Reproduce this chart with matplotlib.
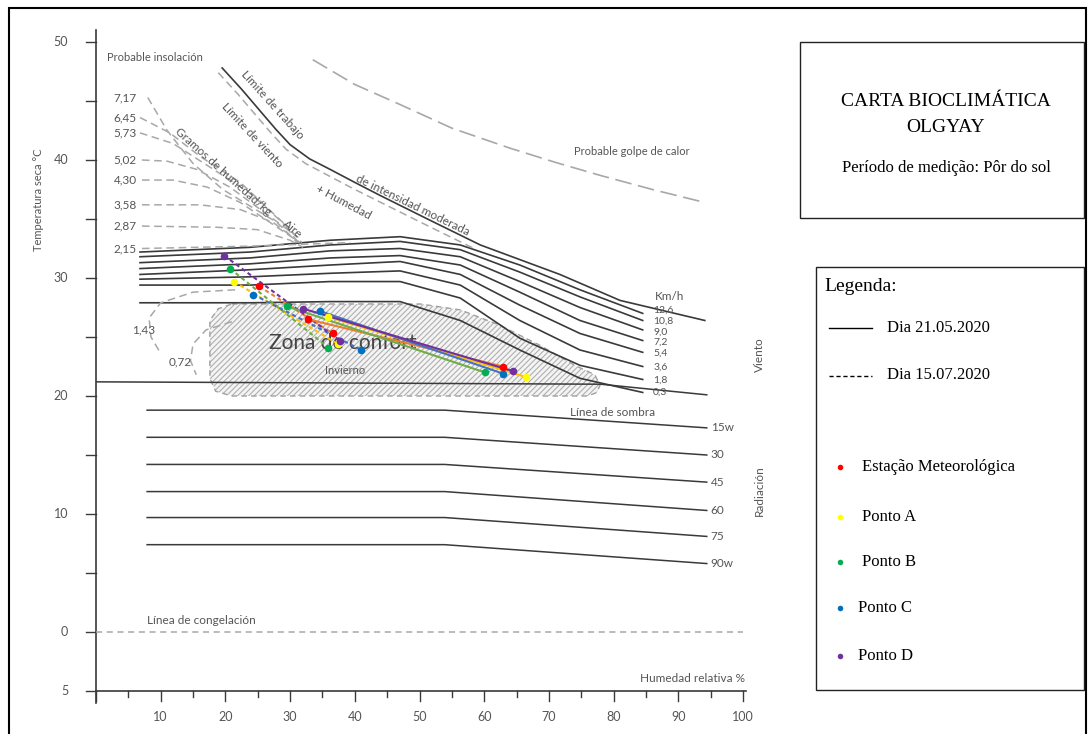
import numpy as np
import matplotlib.pyplot as plt
from matplotlib.patches import Polygon, Rectangle
from matplotlib.lines import Line2D

plt.rcParams['font.family'] = ['Lato', 'DejaVu Sans']
plt.rcParams['hatch.linewidth'] = 0.8

# ---- data (x = humedad relativa %, y = temperatura seca C) ----
wind_x = [6.8, 23.8, 36.2, 47.0, 56.3, 65.5, 74.8, 84.5]
wind_labels = ['12,6', '10,8', '9,0', '7,2', '5,4', '3,6', '1,8', '0,3']
wind_y = [
    [32.2, 32.6, 33.2, 33.5, 32.8, 31.1, 29.0, 27.0],
    [31.8, 32.2, 32.8, 33.1, 32.4, 30.5, 28.4, 26.4],
    [31.3, 31.7, 32.3, 32.5, 31.8, 29.7, 27.5, 25.6],
    [30.8, 31.2, 31.7, 31.9, 31.1, 28.8, 26.4, 24.7],
    [30.3, 30.7, 31.1, 31.4, 30.3, 27.7, 25.3, 23.7],
    [29.9, 30.1, 30.4, 30.6, 29.4, 26.4, 23.9, 22.5],
    [29.4, 29.4, 29.7, 29.7, 28.3, 24.9, 22.6, 21.4],
    [27.9, 27.9, 28.0, 28.0, 26.4, 23.9, 21.5, 20.3],
]
wind_label_y = [27.25, 26.35, 25.4, 24.6, 23.6, 22.4, 21.3, 20.3]

rad_labels = ['15w', '30', '45', '60', '75', '90w']
rad_x = [7.9, 53.9, 94.4]
rad_y = [[18.8, 18.8, 17.3], [16.5, 16.5, 15.0], [14.2, 14.2, 12.7],
         [11.9, 11.9, 10.3], [9.7, 9.7, 8.1], [7.4, 7.4, 5.8]]

hum_labels = ['7,17', '6,45', '5,73', '5,02', '4,30', '3,58', '2,87', '2,15']
hum_label_y = [45.3, 43.6, 42.3, 40.0, 38.3, 36.2, 34.4, 32.5]
hum_curves = [
    ([8.0, 11.0, 15.0, 19.6, 28.0, 31.1], [45.3, 42.5, 39.7, 37.5, 34.7, 33.0]),
    ([6.8, 11.4, 16.1, 22.3, 28.9, 31.5], [43.6, 42.3, 40.3, 38.1, 34.7, 32.8]),
    ([6.8, 11.9, 17.6, 23.8, 30.0, 31.8], [42.3, 41.4, 39.4, 37.2, 34.1, 33.0]),
    ([7.1, 11.0, 15.6, 20.7, 26.9, 31.1], [40.0, 39.9, 39.2, 37.7, 35.2, 33.5]),
    ([7.1, 11.9, 17.2, 22.3, 28.0, 31.5], [38.3, 38.3, 37.7, 36.4, 34.3, 33.0]),
    ([7.1, 16.1, 22.3, 27.4, 31.5], [36.2, 36.2, 35.8, 34.7, 33.0]),
    ([7.1, 18.7, 24.9, 30.0, 32.0], [34.4, 34.3, 34.1, 33.2, 32.6]),
    ([7.1, 23.8, 39.3], [32.5, 32.7, 33.0]),
]

trabajo_x = [19.5, 22.5, 25.3, 27.8, 30.0, 33.0, 36.2, 40.0, 43.9, 51.6, 59.4, 71.7, 81.0, 94.1]
trabajo_y = [47.8, 46.0, 44.2, 42.6, 41.3, 40.1, 39.2, 38.1, 37.0, 34.9, 32.8, 30.3, 28.1, 26.4]
viento_x = [18.9, 21.9, 24.7, 27.2, 29.4, 32.4, 35.5, 39.3, 43.3, 51.0, 58.8]
viento_y = [47.4, 45.6, 43.8, 42.2, 40.9, 39.7, 38.8, 37.7, 36.6, 34.5, 32.4]
calor_x = [33.5, 40.0, 47.0, 55.0, 64.0, 71.0, 77.9, 86.0, 94.1]
calor_y = [48.5, 46.4, 44.7, 42.7, 41.0, 39.8, 38.7, 37.5, 36.4]

sombra_x = [0, 78.0, 94.4]
sombra_y = [21.2, 21.0, 20.1]

arc143_x = [21.5, 15.0, 10.0, 8.2, 8.5, 10.0]
arc143_y = [29.0, 28.8, 27.9, 26.6, 25.0, 23.6]
arc072_x = [21.0, 17.0, 15.0, 14.6, 15.5]
arc072_y = [26.3, 25.6, 24.4, 23.0, 21.8]

zona_x = [21.0, 50.1, 56.3, 62.4, 68.6, 74.0, 77.1, 77.9, 77.4, 76.0, 21.0, 18.5, 17.6, 17.6, 18.9]
zona_y = [27.8, 27.8, 27.3, 26.0, 24.3, 22.6, 21.8, 20.9, 20.3, 20.0, 20.0, 20.4, 21.5, 26.4, 27.4]

# series: [x inicio, x fim], [y inicio, y fim]
series = ['Estação Meteorológica', 'Ponto A', 'Ponto B', 'Ponto C', 'Ponto D']
point_colors = ['#ff0000', '#ffff00', '#00b050', '#0070c0', '#7030a0']
line_colors = ['#ed7d31', '#ffc000', '#70ad47', '#4472c4', '#7030a0']
dia1_x = [[32.8, 62.9], [35.9, 66.5], [29.5, 60.1], [34.6, 62.9], [32.0, 64.5]]
dia1_y = [[26.5, 22.5], [26.7, 21.6], [27.6, 22.0], [27.2, 21.9], [27.4, 22.1]]
dia2_x = [[25.2, 36.6], [21.3, 37.4], [20.7, 35.9], [24.3, 41.0], [19.8, 37.7]]
dia2_y = [[29.3, 25.3], [29.7, 24.4], [30.8, 24.1], [28.6, 23.9], [31.9, 24.7]]

# ---- figure ----
fig = plt.figure(figsize=(10.88, 7.34), dpi=100)
ax = fig.add_axes([96 / 1088, 43 / 734, 647 / 1088, 649 / 734])
ax.set_xlim(0, 100)
ax.set_ylim(-5, 50)
ax.axis('off')

dark = '#3a3a3a'
grey = '#a8a8a8'
txt = '#555555'

# axes lines and ticks
ax.plot([0, 0], [-6.0, 51.0], color=dark, lw=1.2, clip_on=False)
ax.plot([0, 100.5], [-5, -5], color=dark, lw=1.2, clip_on=False)
for t in range(-5, 51, 5):
    ax.plot([-1.6, 0], [t, t], color=dark, lw=1, clip_on=False)
for t in [-5, 0, 10, 20, 30, 40, 50]:
    ax.text(-4.3, t, '5' if t == -5 else str(t), ha='right', va='center',
            fontsize=9, color=txt)
for t in range(0, 101, 5):
    ln = 0.85 if t % 10 == 0 else 0.55
    ax.plot([t, t], [-5, -5 - ln], color=dark, lw=1, clip_on=False)
for t in range(10, 101, 10):
    ax.text(t, -7.2, str(t), ha='center', va='center', fontsize=9, color=txt)

# comfort zone
ax.add_patch(Polygon(np.column_stack([zona_x, zona_y]), closed=True,
                     facecolor='#f4f4f4', edgecolor='#b0b0b0', hatch='//////', lw=0))
ax.add_patch(Polygon(np.column_stack([zona_x, zona_y]), closed=True, fill=False,
                     edgecolor='#a0a0a0', lw=1, ls=(0, (4, 3))))

# wind lines
for ys, lab, ly in zip(wind_y, wind_labels, wind_label_y):
    ax.plot(wind_x, ys, color=dark, lw=1.2)
    ax.text(wind_x[-1] + 1.6, ly, lab, fontsize=7.5, color=txt, va='center')
ax.text(86.4, 28.4, 'Km/h', fontsize=8.5, color=txt, va='center')

# radiation lines
for ys, lab in zip(rad_y, rad_labels):
    ax.plot(rad_x, ys, color=dark, lw=1.1)
    ax.text(rad_x[-1] + 0.6, ys[-1], lab, fontsize=8.5, color=txt, va='center')

# humidity (insolation) curves
for (cx, cy), lab, ly in zip(hum_curves, hum_labels, hum_label_y):
    ax.plot(cx, cy, color=grey, lw=1.1, ls=(0, (5, 3)))
    ax.text(6.3, ly, lab, ha='right', va='center', fontsize=8.5, color=txt)
ax.plot(arc143_x, arc143_y, color=grey, lw=1.1, ls=(0, (5, 3)))
ax.plot(arc072_x, arc072_y, color=grey, lw=1.1, ls=(0, (5, 3)))
ax.text(7.3, 25.6, '1,43', ha='center', va='center', fontsize=8.5, color=txt)
ax.text(13.0, 22.9, '0,72', ha='center', va='center', fontsize=8.5, color=txt)

# limits
ax.plot(trabajo_x, trabajo_y, color=dark, lw=1.2)
ax.plot(viento_x, viento_y, color=grey, lw=1.1, ls=(0, (5, 3)))
ax.plot(calor_x, calor_y, color=grey, lw=1.2, ls=(0, (10, 4)))
ax.plot(sombra_x, sombra_y, color=dark, lw=1.1)
ax.plot([0, 100], [0, 0], color=grey, lw=1.1, ls=(0, (4, 3)))

# texts
ax.text(1.7, 48.7, 'Probable insolación', fontsize=8, color=txt, va='center')
ax.text(27.2, 44.7, 'Límite de trabajo', fontsize=8.5, color=txt, rotation=-48,
        ha='center', va='center')
ax.text(24.1, 42.1, 'Límite de viento', fontsize=8.5, color=txt, rotation=-47,
        ha='center', va='center')
ax.text(19.6, 39.0, 'Gramos de humedad/kg', fontsize=8.5, color=txt, rotation=-42,
        ha='center', va='center')
ax.text(30.4, 34.1, 'Aire', fontsize=8.5, color=txt, rotation=-40, ha='center', va='center')
ax.text(38.2, 36.4, '+ Humedad', fontsize=8.5, color=txt, rotation=-28,
        ha='center', va='center')
ax.text(49.0, 36.2, 'de intensidad moderada', fontsize=8.5, color=txt, rotation=-26,
        ha='center', va='center')
ax.text(82.8, 40.7, 'Probable golpe de calor', fontsize=8, color=txt, ha='center', va='center')
ax.text(38.2, 24.5, 'Zona de confort', fontsize=15, color='#444444', ha='center', va='center')
ax.text(38.5, 22.2, 'Invierno', fontsize=8, color=txt, ha='center', va='center')
ax.text(79.8, 18.6, 'Línea de sombra', fontsize=8.5, color=txt, ha='center', va='center')
ax.text(7.9, 1.0, 'Línea de congelación', fontsize=8.5, color=txt, va='center')
ax.text(100.3, -3.9, 'Humedad relativa %', fontsize=8.5, color=txt, ha='right', va='center')
ax.text(102.6, 23.5, 'Viento', fontsize=8.5, color=txt, rotation=90, ha='center', va='center')
ax.text(102.6, 12.0, 'Radiación', fontsize=8.5, color=txt, rotation=90, ha='center', va='center')
fig.text(38 / 1088, 1 - 200 / 734, 'Temperatura seca °C', fontsize=8, color=txt,
         rotation=90, ha='center', va='center')

# measured series
for xs, ys, lc, pc in zip(dia2_x, dia2_y, line_colors, point_colors):
    ax.plot(xs, ys, color=lc, lw=1.5, ls=(0, (2, 1.5)), zorder=5)
    ax.plot(xs, ys, 'o', color=pc, ms=5.5, mec='none', zorder=6)
for xs, ys, lc, pc in zip(dia1_x, dia1_y, line_colors, point_colors):
    ax.plot(xs, ys, color=lc, lw=1.5, zorder=5)
    ax.plot(xs, ys, 'o', color=pc, ms=5.5, mec='none', zorder=6)

# outer frame
fig.patches.append(Rectangle((9 / 1088, -0.01), 1077 / 1088, 1 - 8 / 734 + 0.01,
                             transform=fig.transFigure, fill=False, ec='black', lw=1.5))

# title box
serif = ['Liberation Serif', 'DejaVu Serif']
fig.patches.append(Rectangle((800 / 1088, 1 - 218 / 734), 284 / 1088, 176 / 734,
                             transform=fig.transFigure, fill=False, ec='#222222', lw=1))
fig.text(946 / 1088, 1 - 102 / 734, 'CARTA BIOCLIMÁTICA', family=serif, fontsize=14,
         ha='center', va='center')
fig.text(946 / 1088, 1 - 128 / 734, 'OLGYAY', family=serif, fontsize=14,
         ha='center', va='center')
fig.text(946 / 1088, 1 - 168 / 734, 'Período de medição: Pôr do sol', family=serif,
         fontsize=12, ha='center', va='center')

# legend box
fig.patches.append(Rectangle((816 / 1088, 1 - 690 / 734), 268 / 1088, 423 / 734,
                             transform=fig.transFigure, fill=False, ec='#222222', lw=1))
fig.text(824 / 1088, 1 - 287 / 734, 'Legenda:', family=serif, fontsize=14,
         ha='left', va='center')
fig.lines.append(Line2D([829 / 1088, 872 / 1088], [1 - 328 / 734] * 2,
                        transform=fig.transFigure, color='black', lw=1))
fig.lines.append(Line2D([829 / 1088, 872 / 1088], [1 - 376 / 734] * 2,
                        transform=fig.transFigure, color='black', lw=1, ls=(0, (3, 2))))
fig.text(887 / 1088, 1 - 328 / 734, 'Dia 21.05.2020', family=serif, fontsize=12,
         ha='left', va='center')
fig.text(887 / 1088, 1 - 375 / 734, 'Dia 15.07.2020', family=serif, fontsize=12,
         ha='left', va='center')
leg_y = [467, 517, 562, 608, 656]
leg_tx = [862, 862, 862, 858, 858]
for name, pc, yy, tx in zip(series, point_colors, leg_y, leg_tx):
    fig.lines.append(Line2D([840 / 1088], [1 - yy / 734], transform=fig.transFigure,
                            marker='o', ms=4, color=pc, mec='none', ls='none'))
    fig.text(tx / 1088, 1 - yy / 734, name, family=serif, fontsize=12,
             ha='left', va='center')

fig.savefig('out.png', dpi=100)
